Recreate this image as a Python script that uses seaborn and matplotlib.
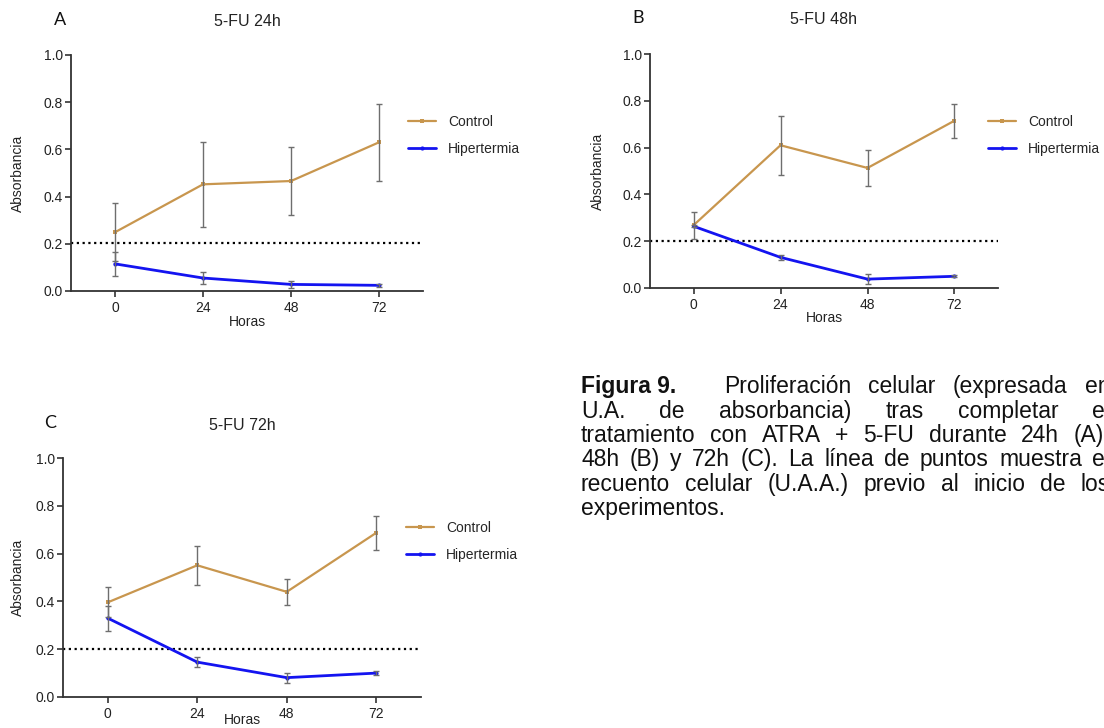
import matplotlib
matplotlib.use("Agg")
import matplotlib.pyplot as plt
import pandas as pd
import seaborn as sns

# datos (absorbancia, media +/- error)
horas = [0, 24, 48, 72]

control_24h = [0.249, 0.452, 0.466, 0.630]
control_24h_err = [0.123, 0.181, 0.145, 0.162]
hiper_24h = [0.115, 0.055, 0.028, 0.024]
hiper_24h_err = [0.050, 0.026, 0.015, 0.006]

control_48h = [0.268, 0.610, 0.513, 0.715]
control_48h_err = [0.058, 0.125, 0.076, 0.072]
hiper_48h = [0.264, 0.131, 0.038, 0.050]
hiper_48h_err = [0.005, 0.012, 0.021, 0.004]

control_72h = [0.396, 0.551, 0.440, 0.687]
control_72h_err = [0.063, 0.082, 0.054, 0.070]
hiper_72h = [0.330, 0.146, 0.081, 0.100]
hiper_72h_err = [0.052, 0.022, 0.021, 0.009]

linea_base = 0.202  # recuento previo (U.A.A.)

titulos = ["5-FU 24h", "5-FU 48h", "5-FU 72h"]
letras = ["A", "B", "C"]
y_ticks = [0.0, 0.2, 0.4, 0.6, 0.8, 1.0]

W, H = 1104, 728
COL_CONTROL = "#C8964E"
COL_HIPER = "#1414F0"
COL_ERR = "#6E6E6E"

sns.set_style("ticks")
plt.rcParams["font.family"] = ["Liberation Sans", "DejaVu Sans"]

fig = plt.figure(figsize=(W / 100, H / 100), dpi=100)


def px(x, y):
    return x / W, 1 - y / H


# left, right, top, bottom in pixels; letter pos; title pos; legend top-left
paneles = [
    dict(box=(71, 423, 55, 291), letra=(60, 20), titulo=(247, 22), leg=(408, 115), ylab=18, xlab=31,
         control=control_24h, c_err=control_24h_err, hiper=hiper_24h, h_err=hiper_24h_err),
    dict(box=(650, 998, 54, 288), letra=(638, 18), titulo=(824, 20), leg=(988, 115), ylab=598, xlab=30,
         control=control_48h, c_err=control_48h_err, hiper=hiper_48h, h_err=hiper_48h_err),
    dict(box=(63, 421, 458, 697), letra=(50, 423), titulo=(242, 426), leg=(406, 521), ylab=18, xlab=23,
         control=control_72h, c_err=control_72h_err, hiper=hiper_72h, h_err=hiper_72h_err),
]

for i, p in enumerate(paneles):
    l, r, t, b = p["box"]
    ax = fig.add_axes([l / W, 1 - b / H, (r - l) / W, (b - t) / H])

    ax.axhline(linea_base, color="black", linestyle=(0, (1, 1.6)), linewidth=1.6, zorder=1)

    sns.lineplot(x=horas, y=p["control"], ax=ax, color=COL_CONTROL, marker="s",
                 markersize=3.5, markeredgewidth=0, linewidth=1.6, label="Control", zorder=2)
    sns.lineplot(x=horas, y=p["hiper"], ax=ax, color=COL_HIPER, marker="o",
                 markersize=3, markeredgewidth=0, linewidth=2.0, label="Hipertermia", zorder=2)

    ax.errorbar(horas, p["control"], yerr=p["c_err"], fmt="none", ecolor=COL_ERR,
                elinewidth=1, capsize=2.5, capthick=1, zorder=3)
    ax.errorbar(horas, p["hiper"], yerr=p["h_err"], fmt="none", ecolor=COL_ERR,
                elinewidth=1, capsize=2.5, capthick=1, zorder=3)

    ax.set_xlim(-12, 84)
    ax.set_ylim(0, 1)
    ax.set_xticks(horas)
    ax.set_yticks(y_ticks)
    ax.set_yticklabels([f"{v:.1f}" for v in y_ticks])
    sns.despine(ax=ax)
    for s in ["left", "bottom"]:
        ax.spines[s].set_linewidth(1.3)
        ax.spines[s].set_color("#333333")
    ax.tick_params(length=4, width=1.2, color="#333333", labelsize=10, pad=2,
                   labelcolor="#222222")
    ax.tick_params(axis="x", pad=3)

    ax.set_xlabel("Horas", fontsize=10, color="#222222")
    ax.xaxis.set_label_coords(*px((l + r) / 2, b + p["xlab"]), transform=fig.transFigure)
    ax.xaxis.label.set_va("center")
    ax.set_ylabel("Absorbancia", fontsize=10, color="#222222")
    ax.yaxis.set_label_coords(*px(p["ylab"], (t + b) / 2), transform=fig.transFigure)
    ax.yaxis.label.set_va("center")

    lx, ly = p["leg"]
    ax.legend(loc="upper left", bbox_to_anchor=px(lx, ly), bbox_transform=fig.transFigure,
              frameon=False, fontsize=10, handlelength=2.0, handletextpad=0.9,
              labelspacing=0.95, borderpad=0, borderaxespad=0)

    fig.text(*px(*p["titulo"]), titulos[i], fontsize=11.5, ha="center", va="center",
             color="#222222")
    fig.text(*px(*p["letra"]), letras[i], fontsize=13, ha="center", va="center",
             family=["Lato", "DejaVu Sans"], color="#111111")

# pie de figura, justificado a mano
renderer = fig.canvas.get_renderer()
CAP = 16.5


def linea(words, x0, x1, base, last=False):
    texts = [fig.text(*px(x0, base), w, fontsize=CAP, va="baseline", ha="left",
                      color="#111111")
             for w in words]
    widths = [tx.get_window_extent(renderer).width for tx in texts]
    if last or len(words) == 1:
        gap = 6.0
    else:
        gap = (x1 - x0 - sum(widths)) / (len(words) - 1)
    x = x0
    for tx, w in zip(texts, widths):
        tx.set_position(px(x, base))
        x += w + gap


fig.text(*px(581, 393), "Figura 9.", fontsize=CAP, fontweight="bold", va="baseline",
         color="#111111")
linea("Proliferación celular (expresada en".split(), 724, 1110, 393)
linea("U.A. de absorbancia) tras completar el".split(), 581, 1110, 418)
linea("tratamiento con ATRA + 5-FU durante 24h (A),".split(), 581, 1110, 442)
linea("48h (B) y 72h (C).  La línea de puntos muestra el".split(), 581, 1110, 466)
linea("recuento celular (U.A.A.) previo al inicio de los".split(), 581, 1110, 491)
linea(["experimentos."], 581, 1110, 515, last=True)

fig.savefig("out.png", dpi=100)
